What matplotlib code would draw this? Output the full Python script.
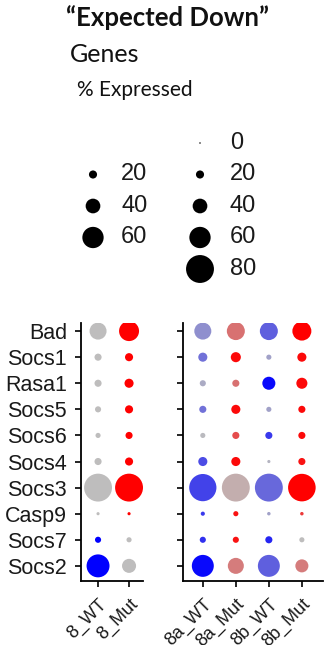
import numpy as np
import matplotlib.pyplot as plt
from matplotlib.colors import LinearSegmentedColormap, Normalize

W, H = 327, 645
DPI = 100

genes = ["Bad", "Socs1", "Rasa1", "Socs5", "Socs6", "Socs4", "Socs3", "Casp9", "Socs7", "Socs2"]

# panel 1: Ikzf8 model
groups_8 = ["8_WT", "8_Mut"]
pct_8 = np.array([
    [47, 56],
    [17, 20],
    [17, 23],
    [14, 20],
    [11, 17],
    [17, 20],
    [80, 80],
    [5, 5],
    [14, 11],
    [65, 38],
])
exp_8 = np.array([
    [0, 1],
    [0, 1],
    [0, 1],
    [0, 1],
    [0, 1],
    [0, 1],
    [0, 1],
    [0, 1],
    [-1, 0],
    [-1, 0],
])

# panel 2: 8a / 8b models
groups_8ab = ["8a_WT", "8a_Mut", "8b_WT", "8b_Mut"]
pct_8ab = np.array([
    [47, 50, 50, 53],
    [23, 26, 11, 23],
    [14, 17, 35, 29],
    [17, 23, 11, 17],
    [11, 17, 17, 17],
    [23, 23, 5, 17],
    [78, 80, 80, 79],
    [8, 11, 6, 6],
    [14, 14, 17, 11],
    [62, 44, 62, 35],
])
exp_8ab = np.array([
    [-0.25, 0.40, -0.50, 1.00],
    [-0.40, 0.95, -0.15, 0.95],
    [-0.10, 0.40, -0.95, 0.95],
    [-0.40, 0.95, -0.15, 0.95],
    [-0.02, 0.60, -0.70, 0.95],
    [-0.60, 0.95, -0.05, 0.90],
    [-0.65, 0.08, -0.45, 1.00],
    [-0.70, 0.90, -0.15, 0.70],
    [-0.75, 0.90, -0.80, 0.00],
    [-0.95, 0.35, -0.50, 0.35],
])

legend_left = [20, 40, 60]
legend_right = [0, 20, 40, 60, 80]

cmap = LinearSegmentedColormap.from_list("bgr", ["#0000FF", "#BEBEBE", "#FF0000"])
norm = Normalize(-1, 1)


def dot_size(pct):
    # diameter in pixels -> marker area in pt^2
    d_px = 1.5 + 0.33 * np.asarray(pct, dtype=float)
    return (d_px * 72 / DPI) ** 2


def px_axes(fig, x0, y0, x1, y1):
    return fig.add_axes([x0 / W, 1 - y1 / H, (x1 - x0) / W, (y1 - y0) / H])


def dot_panel(ax, groups, pct, exp, xlim, show_labels):
    for j in range(len(groups)):
        ax.scatter(np.full(len(genes), j), np.arange(len(genes)),
                   s=dot_size(pct[:, j]), c=cmap(norm(exp[:, j])),
                   linewidths=0, zorder=3)
    ax.set_xlim(*xlim)
    ax.set_ylim(9.58, -0.31)
    ax.set_yticks(np.arange(len(genes)))
    ax.set_yticklabels(genes if show_labels else [])
    ax.set_xticks(np.arange(len(groups)))
    ax.set_xticklabels(groups, rotation=45, ha="right", va="top",
                       rotation_mode="anchor")
    for side in ["top", "right"]:
        ax.spines[side].set_visible(False)
    for side in ["left", "bottom"]:
        ax.spines[side].set_linewidth(1.3)
        ax.spines[side].set_color("black")
    ax.tick_params(length=4.5, width=1.2, color="black", labelcolor="#1a1a1a")
    ax.tick_params(axis="y", pad=5.5, labelsize=15.5)
    ax.tick_params(axis="x", pad=6, labelsize=13)


plt.rcParams["font.family"] = ["Liberation Sans", "DejaVu Sans"]
fig = plt.figure(figsize=(W / DPI, H / DPI), dpi=DPI)

ax1 = px_axes(fig, 81, 323, 143, 581)
dot_panel(ax1, groups_8, pct_8, exp_8, (-0.55, 1.45), True)

ax2 = px_axes(fig, 183, 323, 323, 581)
dot_panel(ax2, groups_8ab, pct_8ab, exp_8ab, (-0.6, 3.64), False)

# size legend
leg = px_axes(fig, 0, 120, W, 300)
leg.set_xlim(0, W)
leg.set_ylim(300, 120)
leg.axis("off")
row_y = 143 + 31.5 * np.arange(len(legend_right))
left_y = row_y[1:1 + len(legend_left)]
leg.scatter(np.full(len(legend_left), 93), left_y, s=dot_size(legend_left),
            c="black", linewidths=0)
for v, y in zip(legend_left, left_y):
    leg.text(121, y, str(v), fontsize=17, va="center", ha="left", color="#1a1a1a")
leg.scatter(np.full(len(legend_right), 200), row_y, s=dot_size(legend_right),
            c="black", linewidths=0)
for v, y in zip(legend_right, row_y):
    leg.text(230, y, str(v), fontsize=17, va="center", ha="left", color="#1a1a1a")

# heading
fig.text(168 / W, 1 - 18 / H, "\u201cExpected Down\u201d", family=["Lato", "DejaVu Sans"],
         fontsize=18.5, fontweight="bold", ha="center", va="center", color="#111111")
fig.text(70 / W, 1 - 54 / H, "Genes", family=["Lato", "DejaVu Sans"],
         fontsize=18, ha="left", va="center", color="#111111")
fig.text(77 / W, 1 - 90 / H, "% Expressed", family=["Lato", "DejaVu Sans"],
         fontsize=15, ha="left", va="center", color="#111111")

fig.savefig("out.png", dpi=DPI)
